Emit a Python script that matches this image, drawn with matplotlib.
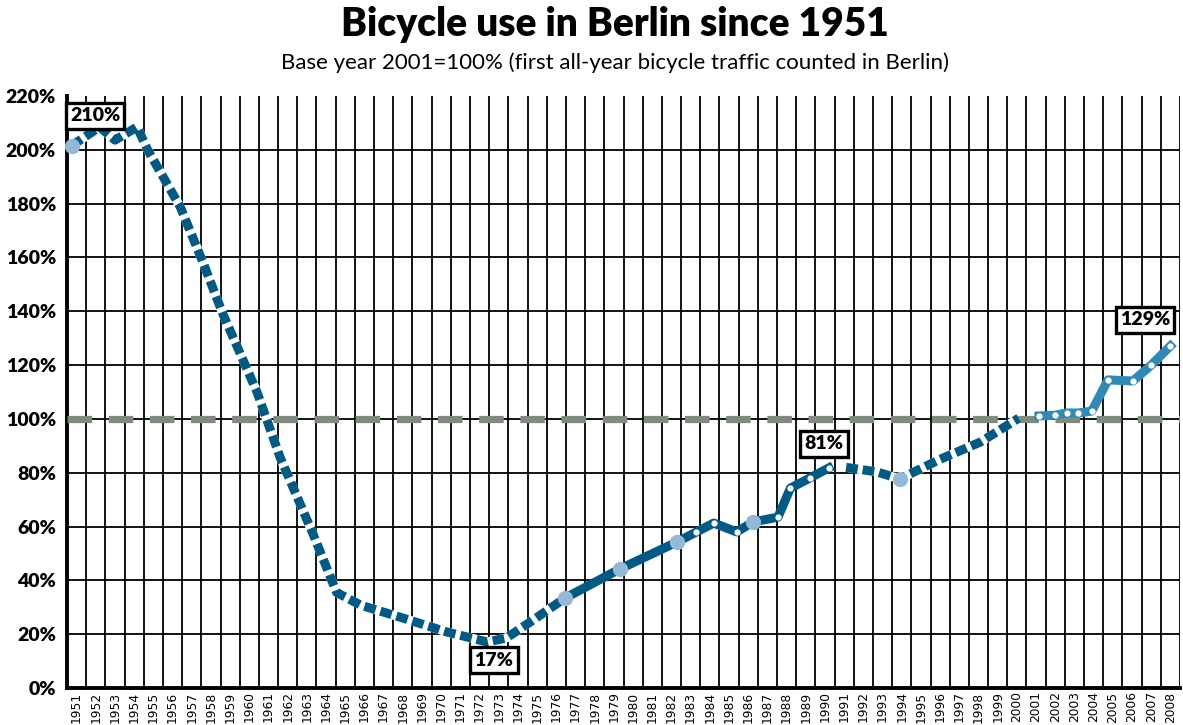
import matplotlib
matplotlib.use("Agg")
import matplotlib.pyplot as plt

# ---- data (decimal year positions, percent of 2001) ----
dash1_x = [1951.24, 1952.7, 1953.5, 1954.65, 1955.2, 1956.1, 1956.9, 1958.1, 1959.1,
           1960.9, 1962.1, 1963.8, 1965.05, 1966.3, 1968.5, 1970.8, 1972.9, 1973.9,
           1975.3, 1976.95]
dash1_y = [201.5, 208.5, 203.6, 208.5, 200.0, 188.8, 178.8, 157.9, 139.4,
           110.0, 85.8, 57.6, 35.5, 30.8, 26.0, 20.8, 17.1, 18.6,
           25.3, 33.4]
solid_x = [1976.95, 1979.8, 1982.8, 1983.8, 1984.7, 1985.9, 1986.75, 1988.05, 1988.7,
           1989.7, 1990.7]
solid_y = [33.4, 44.2, 54.3, 58.0, 61.3, 58.0, 61.7, 63.5, 74.3, 78.0, 81.8]
dash2_x = [1991.6, 1993.2, 1994.4, 1996.5, 1998.6, 2000.6]
dash2_y = [82.0, 80.3, 77.7, 85.0, 91.4, 100.3]
count_x = [2001.65, 2002.5, 2003.1, 2003.7, 2004.4, 2005.25, 2006.55, 2007.5, 2008.5]
count_y = [101.1, 101.4, 102.2, 102.2, 102.9, 114.5, 114.1, 120.0, 127.1]

big_dot_x = [1951.24, 1976.95, 1979.8, 1982.8, 1986.75, 1994.4]
big_dot_y = [201.5, 33.4, 44.2, 54.3, 61.7, 77.7]
small_dot_x = [1983.8, 1984.7, 1985.9, 1988.05, 1988.7, 1989.7, 1990.7] + count_x
small_dot_y = [58.0, 61.3, 58.0, 63.5, 74.3, 78.0, 81.8] + count_y

labels = ["210%", "17%", "81%", "129%"]
label_x = [1952.46, 1973.25, 1990.45, 2007.18]
label_y = [212.6, 10.4, 90.7, 136.8]

years = list(range(1951, 2009))
yticks = list(range(0, 221, 20))
base_value = 100

# ---- style ----
DARK = "#005a86"
LIGHT = "#94b9d6"
MID = "#2f8ab6"
GREY = "#7f8b7e"

fig = plt.figure(figsize=(11.83, 7.25), dpi=100)
ax = fig.add_axes([67/1183, 37/725, (1180-67)/1183, (688-96)/725])
ax.set_xlim(1951, 2009)
ax.set_ylim(0, 220)

# grid
for xv in range(1951, 2010):
    ax.axvline(xv, color="black", lw=1.3, zorder=1)
for yv in yticks[1:-1]:
    ax.axhline(yv, color="black", lw=1.3, zorder=1)

ax.set_xticks([y + 0.5 for y in years])
ax.set_xticklabels([str(y) for y in years], rotation=90, fontsize=8.8,
                   family="DejaVu Sans", va="top")
ax.set_yticks(yticks)
ax.set_yticklabels([f"{v}%" for v in yticks], fontsize=14, fontweight="heavy",
                   family="Lato")
ax.tick_params(length=0, pad=8)
ax.tick_params(axis="x", pad=2.5)
for s in ["top", "right"]:
    ax.spines[s].set_visible(False)
ax.spines["left"].set_linewidth(2.8)
ax.spines["bottom"].set_linewidth(2.8)
ax.spines["left"].set_zorder(2)
ax.spines["bottom"].set_zorder(2)

# 100% reference
ax.axhline(base_value, color=GREY, lw=5.2, linestyle=(0, (3.4, 2.3)),
           dash_capstyle="butt", zorder=3)

# dashed parts
for xs, ys in [(dash1_x, dash1_y), (dash2_x, dash2_y)]:
    ax.plot(xs, ys, color="white", lw=6.5, solid_capstyle="butt", zorder=4)
    ax.plot(xs, ys, color=DARK, lw=6.5, linestyle=(0, (1.3, 0.55)),
            dash_capstyle="butt", zorder=5)
# solid part
ax.plot(solid_x, solid_y, color=DARK, lw=6.5, solid_joinstyle="round",
        solid_capstyle="projecting", zorder=5)
# year-round counting
ax.plot(count_x, count_y, color=MID, lw=6.5, solid_joinstyle="round",
        solid_capstyle="projecting", zorder=5)

ax.plot(big_dot_x, big_dot_y, "o", color=LIGHT, ms=11, mec="none", zorder=6,
        clip_on=False)
ax.plot(small_dot_x, small_dot_y, "o", color="white", ms=4.5, mec="none", zorder=6,
        clip_on=False)

for t, xv, yv in zip(labels, label_x, label_y):
    ax.text(xv, yv, t, ha="center", va="center", fontsize=14, fontweight="heavy",
            family="Lato", zorder=8,
            bbox=dict(boxstyle="square,pad=0.22", fc="white", ec="black", lw=2.4))

fig.text(0.52, 0.966, "Bicycle use in Berlin since 1951", ha="center", va="center",
         fontsize=28, fontweight="heavy", family="Lato")
fig.text(0.52, 0.913, "Base year 2001=100% (first all-year bicycle traffic counted in Berlin)",
         ha="center", va="center", fontsize=16, family="Lato")

fig.savefig("out.png", dpi=100)
